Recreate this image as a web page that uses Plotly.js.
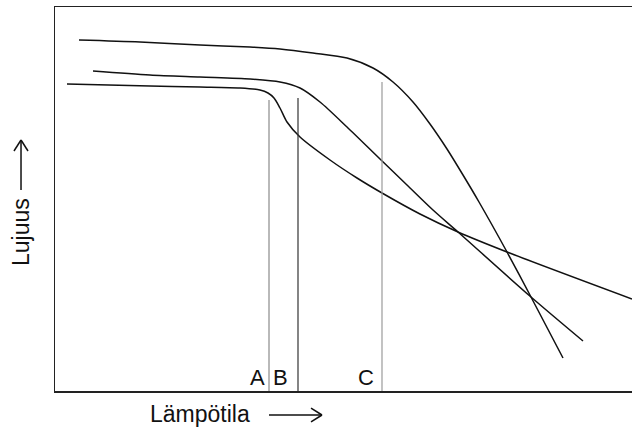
<!DOCTYPE html>
<html>
<head>
<meta charset="utf-8">
<script src="https://cdn.plot.ly/plotly-3.0.1.min.js"></script>
<style>html,body{margin:0;padding:0;background:#fff;}#chart{width:632px;height:427px;}</style>
</head>
<body>
<div id="chart"></div>
<script>
// Schematic: strength (Lujuus) vs temperature (Lämpötila), arbitrary units
var curve1T = [24, 85, 145, 195, 225, 258, 292, 318, 338, 358, 375, 392, 408, 424, 452, 476, 508];
var curve1S = [351, 349, 346, 344, 342, 338, 333, 323, 309, 289, 267, 242, 216, 189, 139, 94, 33];

var curve2T = [38, 95, 145, 195, 225, 245, 265, 292, 325, 352, 378, 403, 476, 528];
var curve2S = [320, 316, 314, 312, 309, 303, 289, 264, 232, 206, 181, 159, 94, 50];

var curve3T = [12, 95, 145, 185, 205, 213, 219, 225, 232, 245, 275, 302, 327, 365, 403, 452, 577];
var curve3S = [307, 305, 304, 303, 301, 298, 293, 283, 269, 254, 231, 213, 198, 177, 159, 139, 92];

var markLabels = ["A", "B", "C"];
var markT = [214, 243, 327];
var markTop = [291, 293, 309];
var markColors = ["#8a8a8a", "#333333", "#9a9a9a"];

var xTitle = "Lämpötila";
var yTitle = "Lujuus";

var traces = [];
[[curve1T, curve1S], [curve2T, curve2S], [curve3T, curve3S]].forEach(function (c) {
  traces.push({
    x: c[0], y: c[1], type: "scatter", mode: "lines",
    line: {color: "#111", width: 1.5, shape: "spline", smoothing: 0.8},
    hoverinfo: "skip", showlegend: false
  });
});
markT.forEach(function (t, i) {
  traces.push({
    x: [t, t], y: [0, markTop[i]], type: "scatter", mode: "lines",
    line: {color: markColors[i], width: 1.2},
    hoverinfo: "skip", showlegend: false
  });
});

var font = "Liberation Sans, Arial, DejaVu Sans, sans-serif";
// label placement: A left of line A, B right of line A, C left of line C
var labelRefT = [markT[0], markT[0], markT[2]];
var labelAnchors = ["right", "left", "right"];
var labelOffsets = [-2, 2, -6];
var annotations = markLabels.map(function (lab, i) {
  return {
    text: lab, x: labelRefT[i] + labelOffsets[i], y: 14, xref: "x", yref: "y",
    xanchor: labelAnchors[i], yanchor: "middle", showarrow: false,
    font: {family: font, size: 22, color: "#111"}
  };
});
annotations.push({
  text: xTitle, xref: "paper", yref: "paper", x: 0.1612, y: -0.0599,
  xanchor: "left", yanchor: "middle", showarrow: false,
  font: {family: font, size: 23, color: "#111"}
});
annotations.push({
  text: yTitle, xref: "paper", yref: "paper", x: -0.0589, y: 0.414,
  xanchor: "center", yanchor: "middle", showarrow: false, textangle: -90,
  font: {family: font, size: 23, color: "#111"}
});

function pl(x0, y0, x1, y1) {
  return {type: "line", xref: "paper", yref: "paper", x0: x0, y0: y0, x1: x1, y1: y1,
          line: {color: "#111", width: 1.5}};
}
// axis-title arrows (decoration)
var shapes = [
  pl(0.3709, -0.0625, 0.4627, -0.0625),
  pl(0.4437, -0.0443, 0.4627, -0.0625),
  pl(0.4437, -0.0807, 0.4627, -0.0625),
  pl(-0.0589, 0.5234, -0.0589, 0.6536),
  pl(-0.0711, 0.625, -0.0589, 0.6536),
  pl(-0.0468, 0.625, -0.0589, 0.6536)
];

var layout = {
  width: 632, height: 427,
  margin: {l: 55, r: 0, t: 7, b: 36},
  paper_bgcolor: "#fff", plot_bgcolor: "#fff",
  showlegend: false,
  xaxis: {range: [0, 577], showgrid: false, zeroline: false, showticklabels: false,
          ticks: "", showline: true, linecolor: "#222", linewidth: 1.5, mirror: true, fixedrange: true},
  yaxis: {range: [0, 384], showgrid: false, zeroline: false, showticklabels: false,
          ticks: "", showline: true, linecolor: "#222", linewidth: 1.5, fixedrange: true},
  annotations: annotations,
  shapes: shapes
};

Plotly.newPlot("chart", traces, layout, {displayModeBar: false, staticPlot: true});
</script>
</body>
</html>
